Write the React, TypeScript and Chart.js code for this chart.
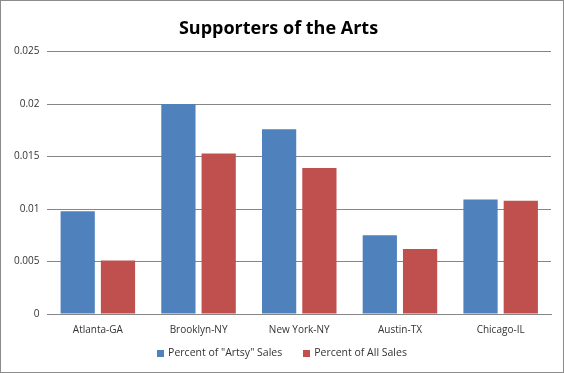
import React, { useEffect, useRef } from "react";
import { Chart, registerables } from "chart.js";

Chart.register(...registerables);

const categories = ["Atlanta-GA", "Brooklyn-NY", "New York-NY", "Austin-TX", "Chicago-IL"];
const artsySales = [0.0098, 0.0200, 0.0176, 0.0075, 0.0109];
const allSales = [0.0051, 0.0153, 0.0139, 0.0062, 0.0108];
const yTicks = [0, 0.005, 0.01, 0.015, 0.02, 0.025];

const legendPlugin = {
  id: "excelLegend",
  afterDraw(chart: any) {
    const ctx = chart.ctx as CanvasRenderingContext2D;
    const items = chart.data.datasets.map((d: any) => ({ text: d.label as string, color: d.backgroundColor as string }));
    ctx.save();
    ctx.font = '10.5px "Open Sans"';
    ctx.textBaseline = "middle";
    ctx.textAlign = "left";
    const box = 7;
    const gapBoxText = 4;
    const gapItems = 21;
    const widths = items.map((it: any) => box + gapBoxText + ctx.measureText(it.text).width);
    const total = widths.reduce((a: number, b: number) => a + b, 0) + gapItems * (items.length - 1);
    let x = (chart.width - total) / 2;
    const y = chart.height - 19.5;
    items.forEach((it: any, i: number) => {
      ctx.fillStyle = it.color;
      ctx.fillRect(Math.round(x), Math.round(y - box / 2), box, box);
      ctx.fillStyle = "#333";
      ctx.fillText(it.text, x + box + gapBoxText, y);
      x += widths[i] + gapItems;
    });
    ctx.restore();
  },
};

export default function App() {
  const ref = useRef<HTMLCanvasElement>(null);
  useEffect(() => {
    document.body.style.margin = "0";
    const chart = new Chart(ref.current!, {
      type: "bar",
      data: {
        labels: categories,
        datasets: [
          { label: 'Percent of "Artsy" Sales', data: artsySales, backgroundColor: "#4F81BD", categoryPercentage: 0.8, barPercentage: 0.85 },
          { label: "Percent of All Sales", data: allSales, backgroundColor: "#C0504D", categoryPercentage: 0.8, barPercentage: 0.85 },
        ],
      },
      plugins: [legendPlugin],
      options: {
        animation: false,
        responsive: false,
        layout: { padding: { left: 6, right: 13, top: 8, bottom: 27 } },
        plugins: {
          title: {
            display: true,
            text: "Supporters of the Arts",
            color: "#000",
            font: { family: "Open Sans", size: 18, weight: "bold" },
            padding: { top: 10, bottom: 12 },
          },
          legend: { display: false },
          tooltip: { enabled: false },
        },
        scales: {
          x: {
            grid: { display: false, drawTicks: false },
            border: { display: true, color: "#868686" },
            ticks: { color: "#333", font: { family: "Open Sans", size: 10 }, padding: 10 },
          },
          y: {
            min: 0,
            max: 0.025,
            afterBuildTicks: (axis: any) => {
              axis.ticks = yTicks.map((v) => ({ value: v }));
            },
            grid: { color: "#868686", drawTicks: false },
            border: { display: false },
            ticks: {
              color: "#333",
              font: { family: "Open Sans", size: 10 },
              padding: 8,
              callback: (v: any) => String(+Number(v).toFixed(3)),
            },
          },
        },
      },
    });
    return () => chart.destroy();
  }, []);
  return (
    <div style={{ position: "relative", width: 564, height: 373 }}>
      <canvas ref={ref} width={564} height={373} style={{ display: "block" }} />
      <div style={{ position: "absolute", inset: 0, border: "1px solid #8c8c8c", boxSizing: "border-box", pointerEvents: "none" }} />
    </div>
  );
}
